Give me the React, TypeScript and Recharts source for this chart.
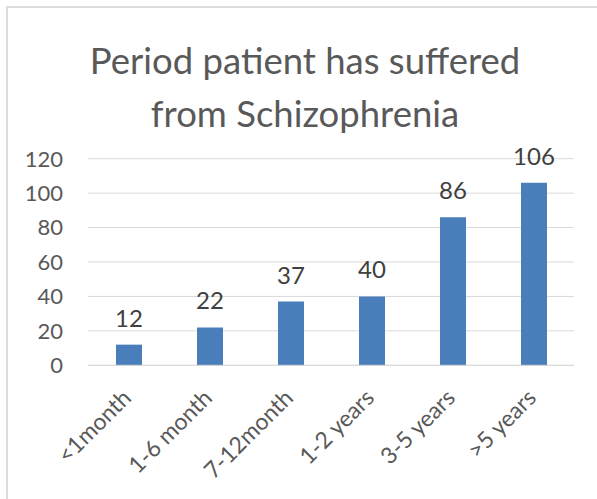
import React from 'react';
import { BarChart, Bar, XAxis, YAxis, CartesianGrid, LabelList } from 'recharts';

const categories = ['<1month', '1-6 month', '7-12month', '1-2 years', '3-5 years', '>5 years'];
const patientCounts = [12, 22, 37, 40, 86, 106];
const yTicks = [0, 20, 40, 60, 80, 100, 120];
const chartTitle = ['Period patient has suffered', 'from Schizophrenia'];

const data = categories.map((category, i) => ({ category, value: patientCounts[i] }));

const FONT = 'Lato, "Open Sans", sans-serif';
const TEXT = '#595959';

const XTick = (props: any) => {
  const { x, y, payload } = props;
  return (
    <g transform={`translate(${x + 4},${y + 34})`}>
      <text
        x={0}
        y={0}
        textAnchor="end"
        transform="rotate(-45)"
        fill={TEXT}
        fontSize={23}
        fontFamily={FONT}
      >
        {payload.value}
      </text>
    </g>
  );
};

export default function App() {
  return (
    <div style={{ position: 'absolute', left: 0, top: 0, width: 597, height: 499, background: '#fff' }}>
      <div
        style={{
          position: 'absolute',
          left: 6,
          top: 6,
          width: 591,
          height: 493,
          boxSizing: 'border-box',
          borderTop: '2px solid #dcdcdc',
          borderLeft: '2px solid #dcdcdc',
        }}
      />
      <svg width={597} height={499} style={{ position: 'absolute', left: 0, top: 0 }}>
        <text x={305} y={74} textAnchor="middle" fill={TEXT} fontSize={36.5} fontFamily={FONT}>
          {chartTitle[0]}
        </text>
        <text x={305} y={127} textAnchor="middle" fill={TEXT} fontSize={36.5} fontFamily={FONT}>
          {chartTitle[1]}
        </text>
      </svg>
      <div style={{ position: 'absolute', left: 0, top: 0 }}>
        <BarChart
          width={597}
          height={499}
          data={data}
          margin={{ top: 158.7, right: 23, bottom: 33.7, left: 0 }}
        >
          <CartesianGrid vertical={false} stroke="#d9d9d9" strokeWidth={1} />
          <XAxis
            dataKey="category"
            height={100}
            tickSize={0}
            tickMargin={0}
            tickLine={false}
            axisLine={{ stroke: '#d9d9d9' }}
            interval={0}
            tick={<XTick />}
          />
          <YAxis
            width={88}
            domain={[0, 120]}
            ticks={yTicks}
            tickSize={0}
            tickMargin={25}
            tickLine={false}
            axisLine={false}
            tick={{ fill: TEXT, fontSize: 22, fontFamily: FONT }}
          />
          <Bar dataKey="value" fill="#4A7EBB" barSize={26} isAnimationActive={false}>
            <LabelList
              dataKey="value"
              position="top"
              offset={18}
              fill="#404040"
              fontSize={24}
              fontFamily={FONT}
            />
          </Bar>
        </BarChart>
      </div>
    </div>
  );
}
